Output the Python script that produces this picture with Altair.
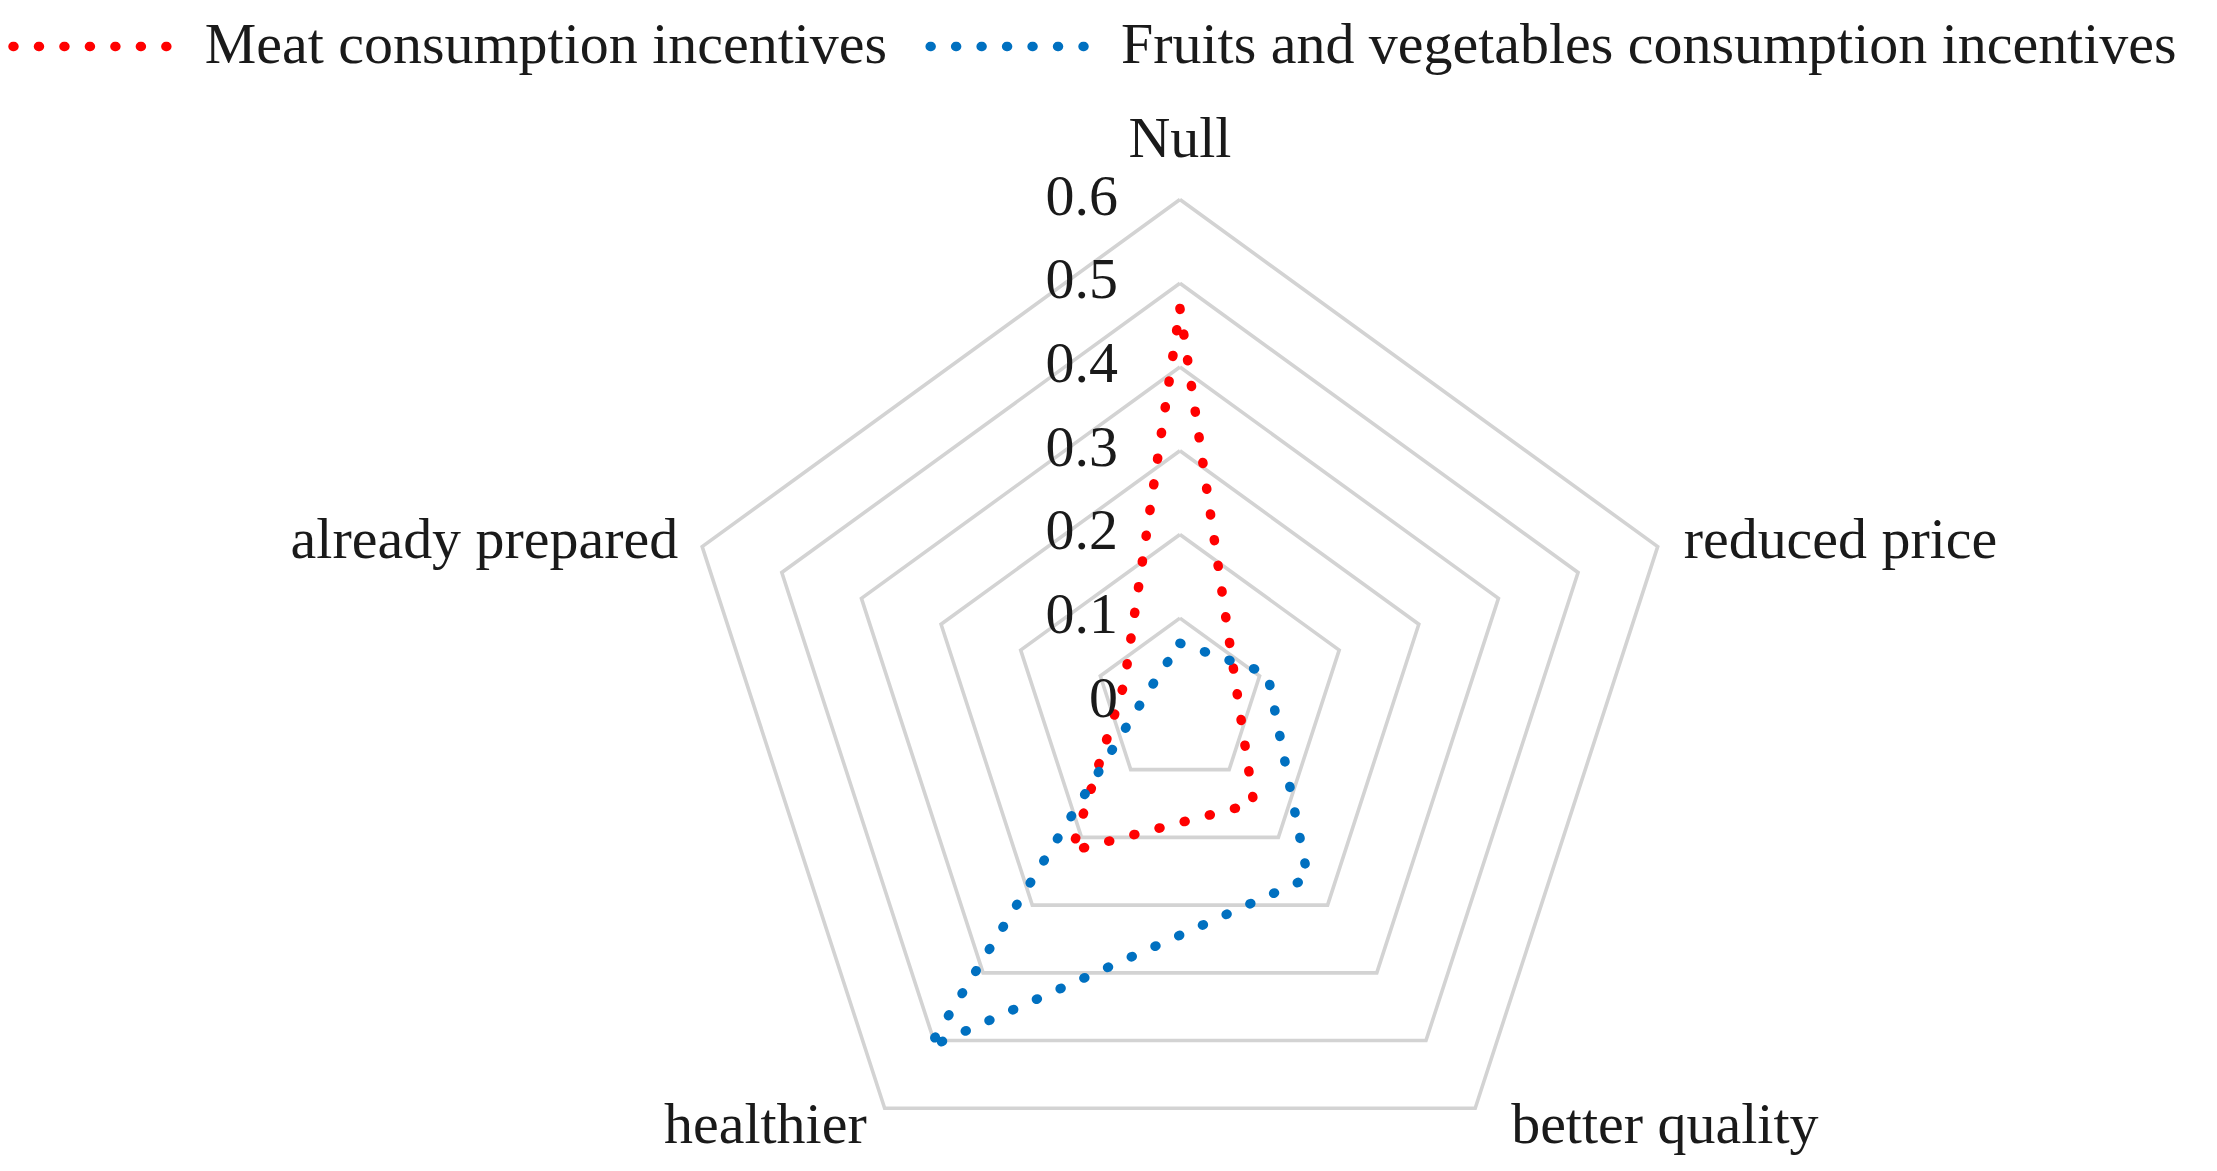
import altair as alt
import pandas as pd

# ---------------- data ----------------
categories = ["Null", "reduced price", "better quality", "healthier", "already prepared"]
meat_values = [0.47, 0.07, 0.15, 0.22, 0.07]
fruit_values = [0.07, 0.11, 0.26, 0.51, 0.04]
series_names = ["Meat consumption incentives", "Fruits and vegetables consumption incentives"]
ring_values = [0.1, 0.2, 0.3, 0.4, 0.5, 0.6]
tick_labels = ["0", "0.1", "0.2", "0.3", "0.4", "0.5", "0.6"]
tick_values = [0.0, 0.1, 0.2, 0.3, 0.4, 0.5, 0.6]

N = len(categories)

# ---------------- tables ----------------
series_rows = []
for s, vals in zip(series_names, [meat_values, fruit_values]):
    for k in range(N + 1):
        series_rows.append({"series": s, "k": k % N, "order": k, "value": vals[k % N]})
series_df = pd.DataFrame(series_rows)

grid_rows = []
for r in ring_values:
    for k in range(N + 1):
        grid_rows.append({"ring": r, "k": k % N, "order": k, "value": r})
grid_df = pd.DataFrame(grid_rows)

cat_df = pd.DataFrame({"category": categories, "k": list(range(N)), "value": [max(ring_values)] * N})
tick_df = pd.DataFrame({"label": tick_labels, "value": tick_values, "k": [0] * len(tick_values)})

# ---------------- geometry ----------------
W, H = 2200, 1154
CX, CY = 1170, 694       # centre of the radar in plot pixels
PPU = 838.0              # pixels per data unit
xdom = [-CX / PPU, (W - CX) / PPU]
ydom = [-(H - CY) / PPU, CY / PPU]

xs = alt.Scale(domain=xdom, range=[0, W], nice=False, zero=False)
ys = alt.Scale(domain=ydom, range=[H, 0], nice=False, zero=False)

polar_x = f"datum.value * sin(2 * PI * datum.k / {N})"
polar_y = f"datum.value * cos(2 * PI * datum.k / {N})"

FONT = "Liberation Serif"
FS = 58
TXT = "#1a1a1a"

def X():
    return alt.X("px:Q", scale=xs, axis=None)

def Y():
    return alt.Y("py:Q", scale=ys, axis=None)

grid = alt.Chart(grid_df).transform_calculate(px=polar_x, py=polar_y).mark_line(
    color="#d3d3d3", strokeWidth=3.6, strokeJoin="miter"
).encode(x=X(), y=Y(), detail="ring:N", order="order:Q")

color_scale = alt.Scale(domain=series_names, range=["#ff0000", "#0070c0"])

lines = alt.Chart(series_df).transform_calculate(px=polar_x, py=polar_y).mark_line(
    strokeWidth=9.5, strokeDash=[1, 25], strokeCap="round", strokeJoin="round"
).encode(
    x=X(), y=Y(),
    color=alt.Color("series:N", scale=color_scale, legend=None),
    detail="series:N", order="order:Q"
)

ticks = alt.Chart(tick_df).transform_calculate(px=polar_x, py=polar_y).mark_text(
    font=FONT, fontSize=FS, align="right", baseline="middle", dx=-62, dy=-2, color=TXT
).encode(x=X(), y=Y(), text="label:N")

def cat_layer(names, align, dx, dy):
    return alt.Chart(cat_df).transform_filter(
        alt.FieldOneOfPredicate(field="category", oneOf=names)
    ).transform_calculate(px=polar_x, py=polar_y).mark_text(
        font=FONT, fontSize=FS, align=align, baseline="middle", dx=dx, dy=dy, color=TXT
    ).encode(x=X(), y=Y(), text="category:N")

lab_top = cat_layer(["Null"], "center", 0, -60)
lab_right = cat_layer(["reduced price"], "left", 26, -6)
lab_bright = cat_layer(["better quality"], "left", 36, 18)
lab_bleft = cat_layer(["healthier"], "right", -18, 18)
lab_left = cat_layer(["already prepared"], "right", -24, -6)

# ---------------- legend (top) ----------------
leg_df = pd.DataFrame({"series": series_names, "slot": [0, 1]})
LEG_Y = 38  # plot pixels from top
leg_start = [2, 920]
px_scale = alt.Scale(domain=[0, W], range=[0, W])
leg_sym = alt.Chart(leg_df).transform_calculate(
    x1=f"datum.slot == 0 ? {leg_start[0]} : {leg_start[1]}",
    x2=f"datum.slot == 0 ? {leg_start[0] + 165} : {leg_start[1] + 165}",
).mark_rule(strokeWidth=9.5, strokeDash=[1, 24.5], strokeCap="round").encode(
    x=alt.X("x1:Q", scale=px_scale, axis=None),
    x2="x2:Q",
    y=alt.value(LEG_Y),
    color=alt.Color("series:N", scale=color_scale, legend=None),
)
leg_txt = alt.Chart(leg_df).transform_calculate(
    xt=f"datum.slot == 0 ? {leg_start[0] + 192} : {leg_start[1] + 191}"
).mark_text(font=FONT, fontSize=FS, align="left", baseline="middle", color=TXT).encode(
    x=alt.X("xt:Q", scale=px_scale, axis=None),
    y=alt.value(LEG_Y),
    text="series:N",
)

chart = alt.layer(
    grid, lines, ticks, lab_top, lab_right, lab_bright, lab_bleft, lab_left, leg_sym, leg_txt
).resolve_scale(x="independent").properties(
    width=W, height=H, padding=0, background="white"
).configure_view(strokeWidth=0)

chart.save("out.html", embed_options={"renderer": "svg", "actions": False})
